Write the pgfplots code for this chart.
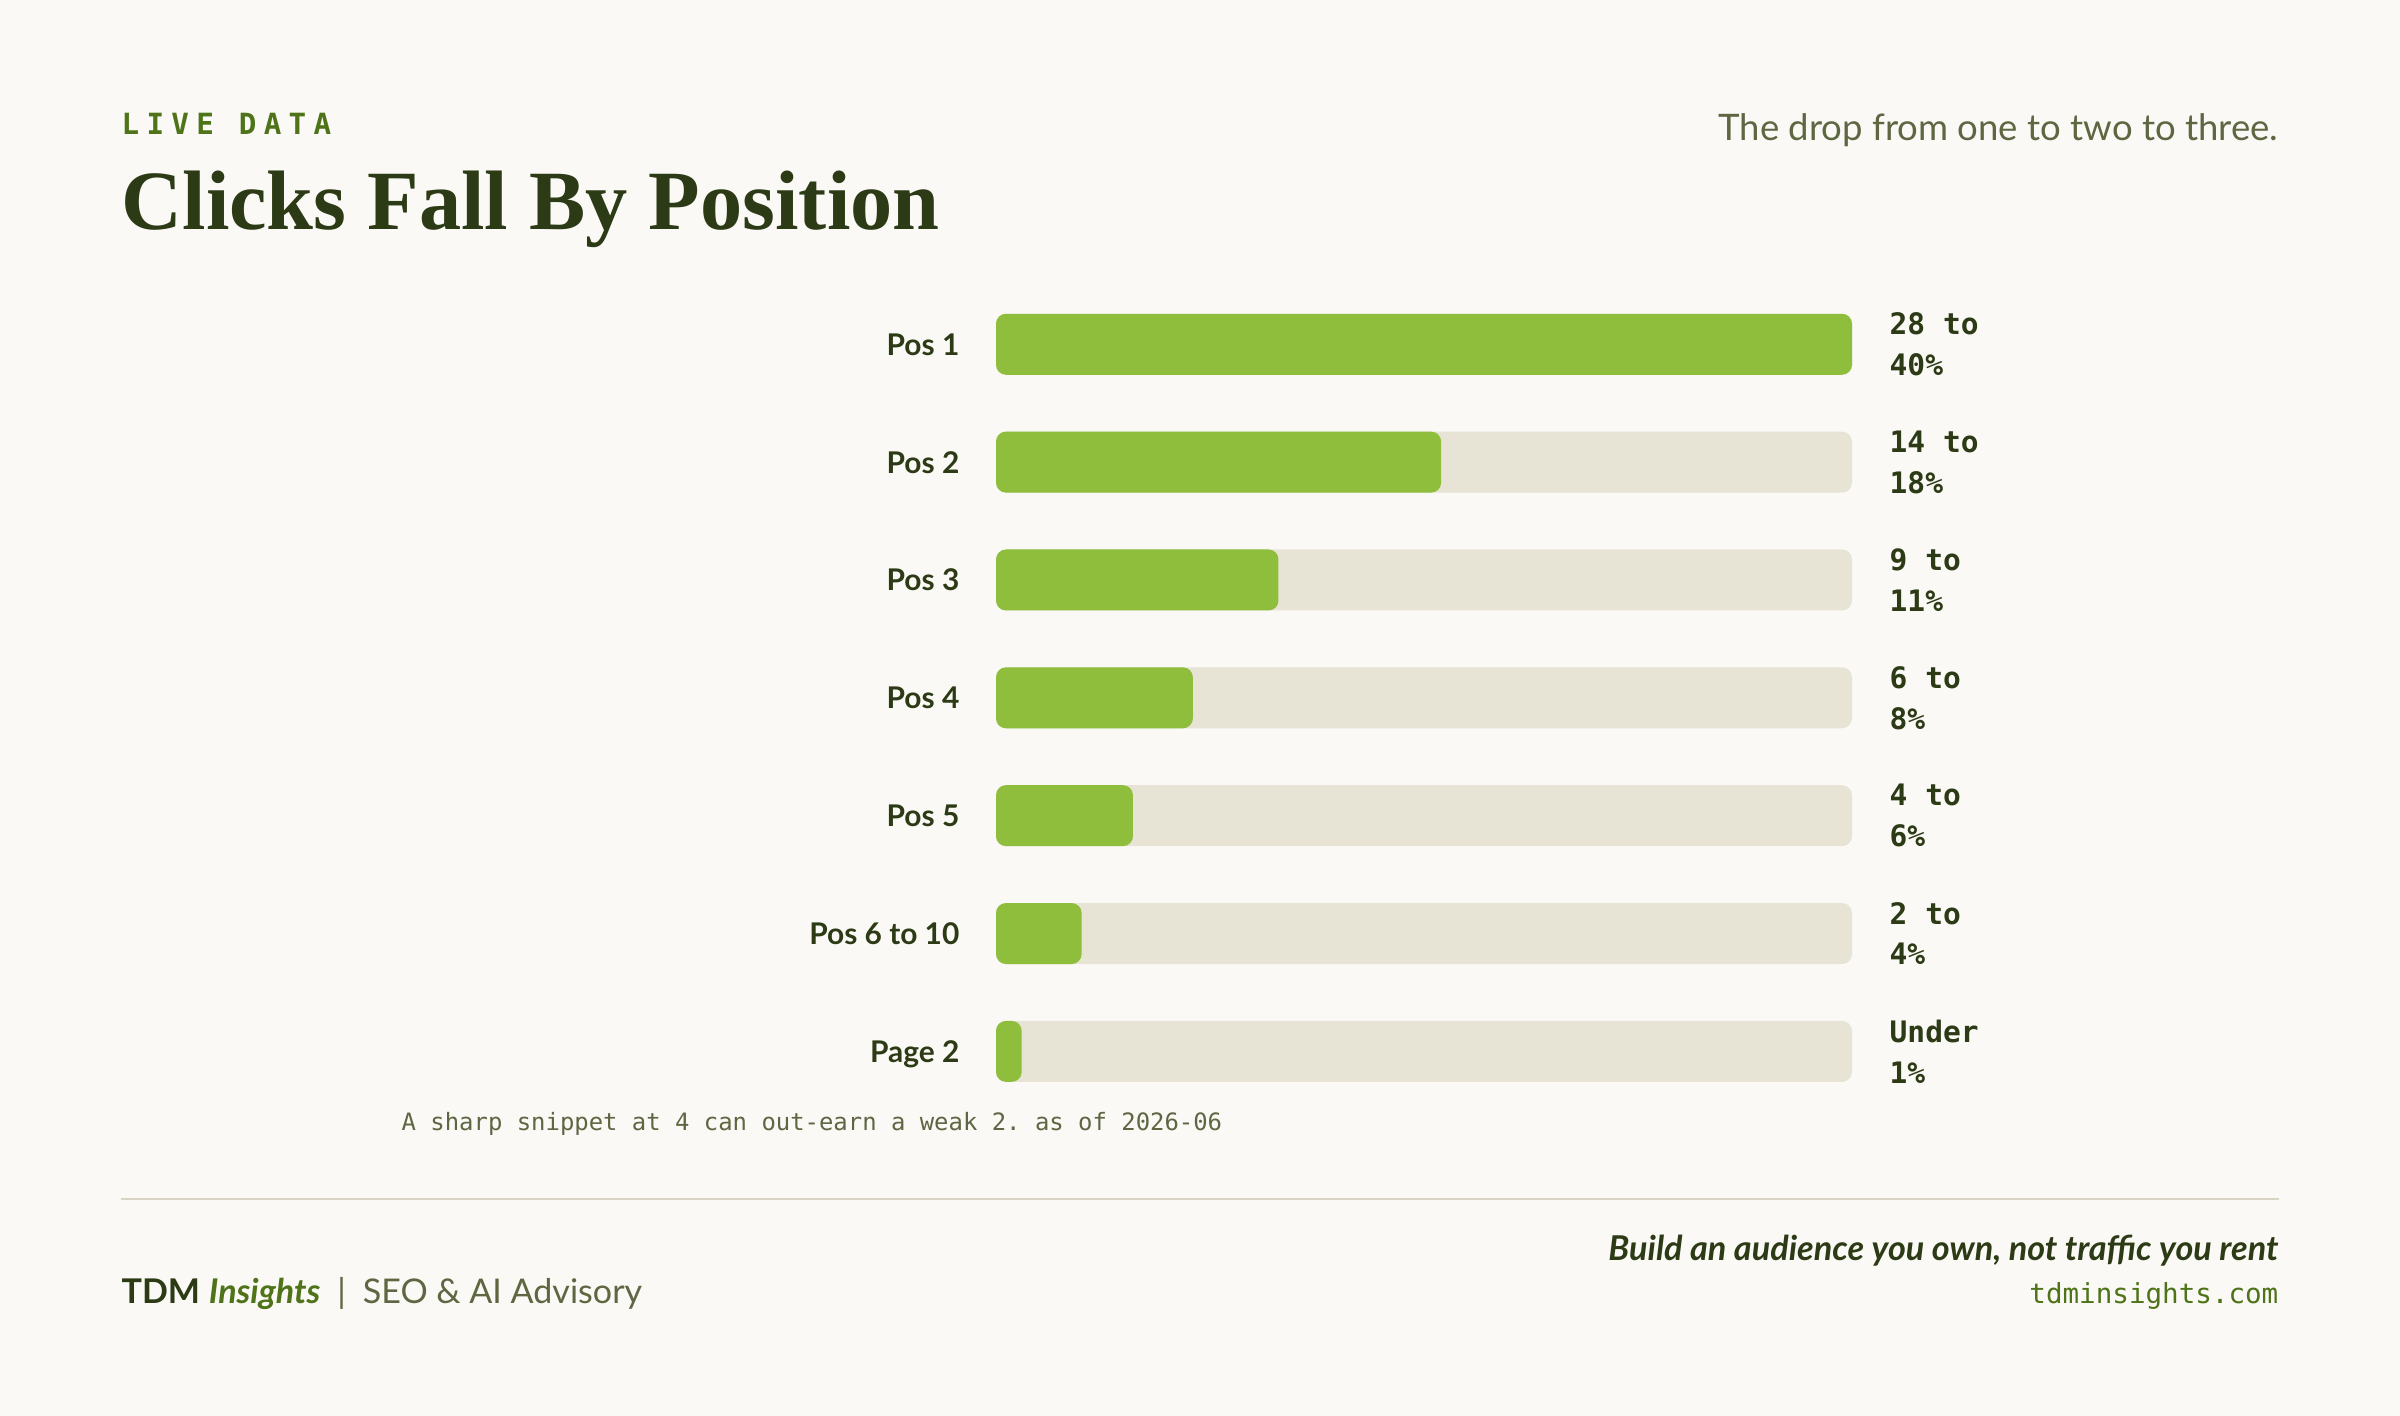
\documentclass[border=0pt]{standalone}
\usepackage{pgfplots}
\pgfplotsset{compat=1.18}
\usepackage{fontspec}
\setmainfont{Lato}
\setsansfont{Lato}
\setmonofont{DejaVu Sans Mono}
\newfontfamily\titlefont{Liberation Serif}

\definecolor{bg}{HTML}{FAF9F5}
\definecolor{ink}{HTML}{2C3A15}
\definecolor{olive}{HTML}{4E7318}
\definecolor{muted}{HTML}{5E6642}
\definecolor{barg}{HTML}{8FBE3D}
\definecolor{track}{HTML}{E7E4D5}
\definecolor{rule}{HTML}{D9D4C4}

\begin{document}
\begin{tikzpicture}
\fill[bg] (0,0) rectangle (720bp,424.8bp);
\useasboundingbox (0,0) rectangle (720bp,424.8bp);

% header
\node[anchor=base west, inner sep=0pt, text=olive,
      font=\ttfamily\bfseries\fontsize{8.8}{10}\selectfont\addfontfeature{LetterSpace=25}]
  at (36.3bp,384.3bp) {LIVE DATA};
\node[anchor=base west, inner sep=0pt, text=ink,
      font=\titlefont\bfseries\fontsize{25.4}{30}\selectfont]
  at (36.3bp,355.8bp) {Clicks Fall By Position};
\node[anchor=base east, inner sep=0pt, text=muted,
      font=\fontsize{11}{14}\selectfont]
  at (683.7bp,382.5bp) {The drop from one to two to three.};

% bars
\begin{axis}[
  at={(298.8bp,91.7bp)}, anchor=south west,
  scale only axis, width=256.8bp, height=247.5bp,
  xmin=0, xmax=100, ymin=-0.5, ymax=6.5,
  xbar, bar width=18.3bp,
  axis line style={draw=none}, tick style={draw=none},
  major tick length=0pt,
  xtick=\empty, ytick={0,...,6},
  yticklabels={Page 2,Pos 6 to 10,Pos 5,Pos 4,Pos 3,Pos 2,Pos 1},
  yticklabel style={anchor=base east, inner sep=0pt, xshift=-10.8bp, yshift=-3.3bp,
    text=ink, font=\bfseries\fontsize{9.0}{11}\selectfont},
  clip=false,
]
\addplot[fill=track, draw=none, rounded corners=3bp, bar shift=0pt,
  nodes near coords, point meta=explicit symbolic,
  every node near coord/.append style={anchor=west, inner sep=0pt, xshift=11.1bp,
    align=left, text=ink, font=\ttfamily\bfseries\fontsize{8.9}{12.3}\selectfont}]
  coordinates {
    (100,6) [28 to\\40\%]
    (100,5) [14 to\\18\%]
    (100,4) [9 to\\11\%]
    (100,3) [6 to\\8\%]
    (100,2) [4 to\\6\%]
    (100,1) [2 to\\4\%]
    (100,0) [Under\\1\%]
  };
\addplot[fill=barg, draw=none, rounded corners=3bp, bar shift=0pt]
  coordinates {(100,6) (52,5) (33,4) (23,3) (16,2) (10,1) (3,0)};
\end{axis}

% note
\node[anchor=base west, inner sep=0pt, text=muted,
      font=\ttfamily\fontsize{7.2}{9}\selectfont]
  at (120.3bp,85.5bp) {A sharp snippet at 4 can out-earn a weak 2. as of 2026-06};

% footer
\draw[rule, line width=0.6bp] (36.3bp,65.1bp) -- (683.7bp,65.1bp);
\node[anchor=base west, inner sep=0pt, font=\fontsize{10.25}{12}\selectfont]
  at (36.3bp,33.9bp)
  {\textcolor{ink}{\bfseries TDM} \textcolor{olive}{\bfseries\itshape Insights}\enspace\textcolor{muted}{|}\enspace\textcolor{muted}{SEO \& AI Advisory}};
\node[anchor=base east, inner sep=0pt, text=ink,
      font=\bfseries\itshape\fontsize{10.3}{12}\selectfont]
  at (683.7bp,46.5bp) {Build an audience you own, not traffic you rent};
\node[anchor=base east, inner sep=0pt, text=olive,
      font=\ttfamily\fontsize{8.3}{10}\selectfont]
  at (683.7bp,33.9bp) {tdminsights.com};
\end{tikzpicture}
\end{document}
